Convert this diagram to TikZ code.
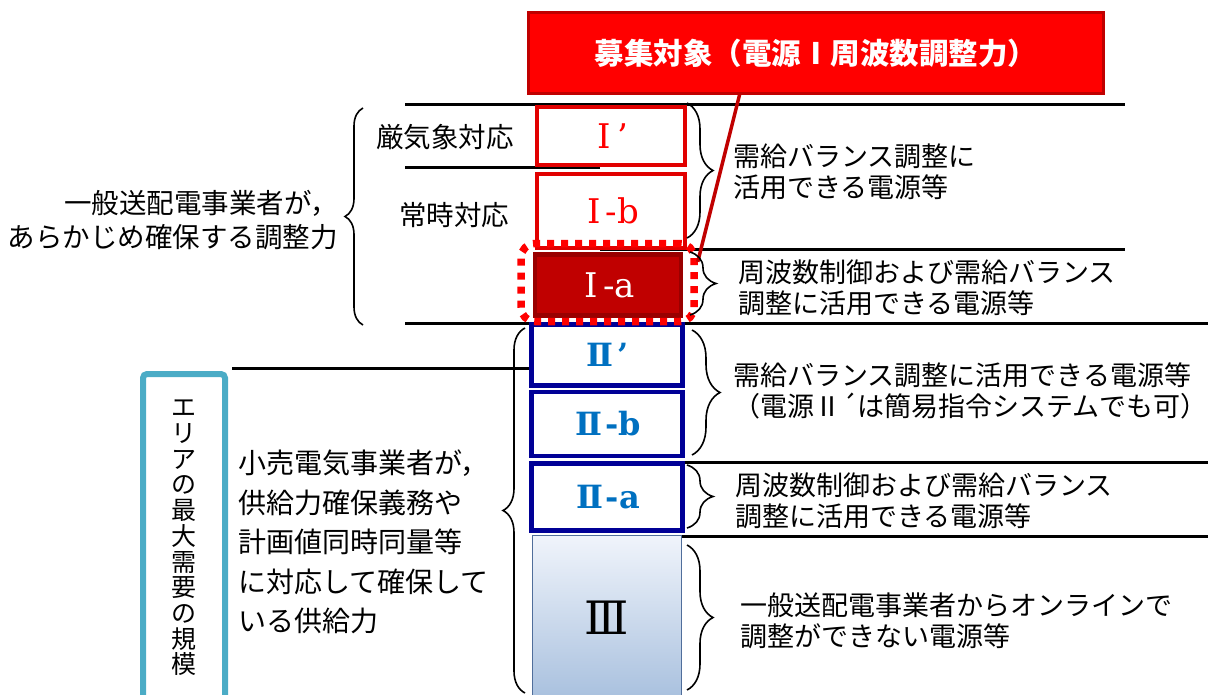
\documentclass[tikz,border=0pt]{standalone}
\usepackage{fontspec}
\newfontfamily\cjk{Noto Sans CJK JP}
\newfontfamily\numfont{DejaVu Serif}
\usetikzlibrary{decorations.pathreplacing}

\definecolor{callred}{RGB}{255,0,0}
\definecolor{darkred}{RGB}{192,0,0}
\definecolor{boxred}{RGB}{225,0,0}
\definecolor{navy}{RGB}{0,0,150}
\definecolor{labelblue}{RGB}{0,112,192}
\definecolor{areateal}{RGB}{75,172,198}

\tikzset{
  hline/.style={line width=3},
  curly/.style={decorate, decoration={brace, amplitude=#1}, line width=1.6},
  redbox/.style={draw=boxred, line width=4.5, fill=white, minimum width=148,
    text=callred, inner sep=0, font=\numfont\fontsize{34}{36}\selectfont},
  bluebox/.style={draw=navy, line width=4.5, fill=white, minimum width=151,
    text=labelblue, inner sep=0, font=\numfont\bfseries\fontsize{32}{34}\selectfont},
  note/.style={font=\cjk\fontsize{27}{31}\selectfont, align=left, inner sep=0, anchor=west},
  sidetxt/.style={font=\cjk\fontsize{27.5}{34}\selectfont, inner sep=0}
}

\begin{document}
\begin{tikzpicture}[x=1pt,y=-1pt]
\useasboundingbox (0,0) rectangle (1208,694);

% rules behind the column
\draw[hline] (405,104) -- (1125,104);
\draw[hline] (405,167) -- (600,167);
\draw[hline] (600,249) -- (1125,249);
\draw[hline] (405,323) -- (1208,323);
\draw[hline] (232,368) -- (600,368);
\draw[hline] (600,462) -- (1208,462);
\draw[hline] (600,536) -- (1208,536);

% column of sources
\node[redbox, minimum height=58] (ip) at (611,136) {\kern4pt Ⅰ\kern6pt’};
\node[redbox, minimum height=74] (ib) at (611,211) {\kern4pt Ⅰ\kern5pt-b};
\node[redbox, fill=darkred, draw=red!60!black, text=white,
  minimum width=146, minimum height=61] (ia) at (608,285) {\kern4pt Ⅰ\kern5pt-a};
\node[bluebox, minimum height=61] (iip) at (607,355) {\kern2pt Ⅱ\kern4pt’};
\node[bluebox, minimum height=64] (iib) at (607,424) {\kern2pt Ⅱ\kern3pt-b};
\node[bluebox, minimum height=67] (iia) at (607,497) {\kern2pt Ⅱ\kern3pt-a};
\node[draw={rgb,255:red,80;green,110;blue,155}, line width=1,
  top color={rgb,255:red,240;green,244;blue,251},
  bottom color={rgb,255:red,168;green,192;blue,222},
  minimum width=149, minimum height=165, inner sep=0,
  font=\numfont\fontsize{46}{50}\selectfont] (iii) at (607,618) {Ⅲ};

% frame round I-a
\node[draw=callred, line width=7.5, dash pattern=on 7 off 7, rounded corners=14,
  minimum width=173, minimum height=78] (iaframe) at (607.5,282.5) {};

% callout
\node[fill=callred, draw=darkred, line width=3, minimum width=575, minimum height=81,
  text=white, font=\cjk\bfseries\fontsize{29.5}{31}\selectfont] (target) at (816,53)
  {募集対象（電源Ⅰ周波数調整力）};
\draw[darkred, line width=3.5] ([xshift=-76,yshift=2]target.south) -- ([yshift=-22]iaframe.north east);

% left side
\node[sidetxt] (severe) at (445,137) {厳気象対応};
\node[sidetxt] (normal) at (454,215) {常時対応};
\node[sidetxt, align=right, anchor=east] (gentso) at (338,220)
  {一般送配電事業者が，\\あらかじめ確保する調整力};
\draw[curly=18] (363,325) -- (363,108);

\node[draw=areateal, line width=6, rounded corners=4, minimum width=82,
  minimum height=340, anchor=north] (area) at (184,371) {};
\node[font=\cjk\fontsize{25}{25.7}\selectfont, align=center, inner sep=0] (areatxt) at (184,538)
  {エ\\リ\\ア\\の\\最\\大\\需\\要\\の\\規\\模};
\node[sidetxt, align=left, anchor=west, font=\cjk\fontsize{28}{39.5}\selectfont] (retail) at (238,542)
  {小売電気事業者が，\\供給力確保義務や\\計画値同時同量等\\に対応して確保して\\いる供給力};
\draw[curly=22] (525,693) -- (525,328);

% right side
\draw[curly=26] (687,103) -- (687,238);
\node[note] (n1) at (733,172) {需給バランス調整に\\活用できる電源等};
\draw[curly=26] (690,252) -- (690,315);
\node[note] (n2) at (738,288) {周波数制御および需給バランス\\調整に活用できる電源等};
\draw[curly=28] (692,330) -- (692,455);
\node[note] (n3) at (733,391) {需給バランス調整に活用できる電源等\\（電源Ⅱ´は簡易指令システムでも可）};
\draw[curly=26] (687,465) -- (687,528);
\node[note] (n4) at (735,501) {周波数制御および需給バランス\\調整に活用できる電源等};
\draw[curly=26] (687,545) -- (687,690);
\node[note] (n5) at (740,621) {一般送配電事業者からオンラインで\\調整ができない電源等};

\end{tikzpicture}
\end{document}
